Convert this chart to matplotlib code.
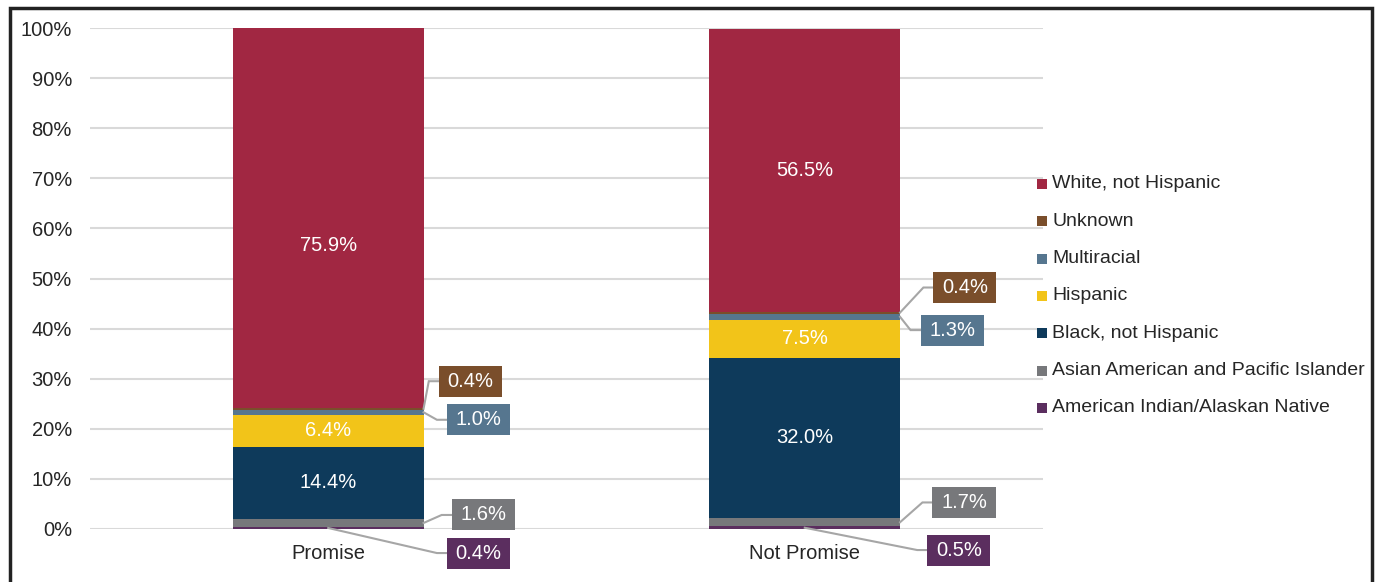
import matplotlib.pyplot as plt
from matplotlib.patches import Rectangle

plt.rcParams['font.family'] = ['Liberation Sans', 'DejaVu Sans']

# Data (percent of students)
categories = ['Promise', 'Not Promise']
groups = ['American Indian/Alaskan Native', 'Asian American and Pacific Islander',
          'Black, not Hispanic', 'Hispanic', 'Multiracial', 'Unknown', 'White, not Hispanic']
promise = [0.4, 1.6, 14.4, 6.4, 1.0, 0.4, 75.9]
not_promise = [0.5, 1.7, 32.0, 7.5, 1.3, 0.4, 56.5]
colors = ['#5B2E5F', '#77787B', '#0E3A5B', '#F2C419', '#56768F', '#7A4E2B', '#A12742']

values = [promise, not_promise]
small = [0, 1, 4, 5]  # groups labelled with callout boxes

# callout elbow positions per category: group -> (dx from bar centre, y in %)
elbows = [
    {5: (0.211, 29.5), 4: (0.228, 21.8), 1: (0.238, 2.8), 0: (0.228, -4.8)},
    {5: (0.249, 48.2), 4: (0.222, 39.7), 1: (0.247, 5.3), 0: (0.236, -4.2)},
]
label_nudge = {(0, 6): -5.5}

fig = plt.figure(figsize=(13.76, 5.82), dpi=100)
ax = fig.add_axes([90 / 1376, 1 - 529 / 582, (1043 - 90) / 1376, (529 - 28) / 582])

bar_w = 0.4
px_x = 1 / 476          # one pixel in x data units
px_y = 100 / 501        # one pixel in y data units
txt = '#262626'
fs = 14.5

for ci, vals in enumerate(values):
    bottom = 0
    for gi, v in enumerate(vals):
        ax.bar(ci, v, bar_w, bottom=bottom, color=colors[gi], linewidth=0, zorder=3)
        top = min(bottom + v, 100)
        mid = (bottom + top) / 2
        if gi in small:
            ex, ey = elbows[ci][gi]
            if gi == 0:
                ax0, ay0 = ci, mid
            else:
                ax0, ay0 = ci + bar_w / 2, mid
            bx = ci + ex + 10 * px_x
            ax.plot([ax0, ci + ex, bx], [ay0, ey, ey], color='#A6A6A6', lw=1.5,
                    clip_on=False, zorder=4, solid_joinstyle='miter')
            bw, bh = 63 * px_x, 31 * px_y
            ax.add_patch(Rectangle((bx, ey - bh / 2), bw, bh, facecolor=colors[gi],
                                   edgecolor='none', clip_on=False, zorder=5))
            ax.text(bx + bw / 2, ey, f'{v:.1f}%', color='white', fontsize=fs,
                    ha='center', va='center', zorder=6, clip_on=False)
        else:
            ax.text(ci, mid + label_nudge.get((ci, gi), 0), f'{v:.1f}%', color='white',
                    fontsize=fs, ha='center', va='center', zorder=6)
        bottom += v

ax.set_xlim(-0.5, 1.5)
ax.set_ylim(0, 100)
ax.set_yticks(range(0, 101, 10))
ax.set_yticklabels([f'{t}%' for t in range(0, 101, 10)])
ax.set_xticks(range(len(categories)))
ax.set_xticklabels(categories)
ax.tick_params(axis='y', length=0, pad=13, labelsize=fs, labelcolor=txt)
ax.tick_params(axis='x', length=0, pad=11, labelsize=fs, labelcolor=txt)
ax.grid(axis='y', color='#D9D9D9', lw=1.5, zorder=0)
for s in ax.spines.values():
    s.set_visible(False)

# legend drawn by hand, top entry is the last group
for i, gi in enumerate(reversed(range(len(groups)))):
    y = 1 - (184 + i * 37.3) / 582
    fig.patches.append(Rectangle((1037 / 1376, y - 5 / 582), 10 / 1376, 10 / 582,
                                 facecolor=colors[gi], edgecolor='none',
                                 transform=fig.transFigure))
    fig.text(1052 / 1376, y, groups[gi], fontsize=14, color=txt, va='center', ha='left')

# outer frame
fig.patches.append(Rectangle((10 / 1376, -0.01), 1362 / 1376, 1 - 8 / 582 + 0.01,
                             facecolor='none', edgecolor='#222222', lw=2.5,
                             transform=fig.transFigure, zorder=10))

fig.savefig('out.png', dpi=100)
